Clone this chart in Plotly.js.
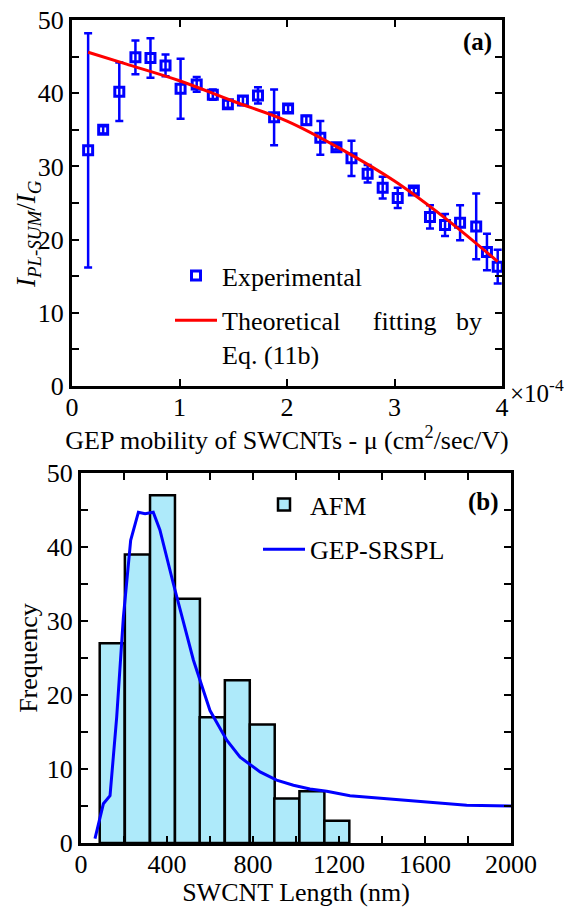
<!DOCTYPE html>
<html><head><meta charset="utf-8">
<script src="https://cdn.plot.ly/plotly-3.0.1.min.js"></script>
<style>html,body{margin:0;padding:0;background:#fff}</style>
</head><body><div id="chart" style="width:565px;height:907px"></div>
<script>
// ---- Panel (a): GEP mobility (x 1e-4 cm2/sec/V) vs I_PL-SUM/I_G ----
const mobility = [0.15,0.29,0.44,0.59,0.73,0.87,1.01,1.16,1.31,1.45,1.59,1.73,1.88,2.01,2.18,2.31,2.46,2.60,2.75,2.89,3.03,3.18,3.33,3.47,3.61,3.76,3.86,3.96];
const ratioExp = [32.2,35.0,40.2,44.9,44.8,43.8,40.6,41.2,39.8,38.5,39.0,39.7,36.7,37.9,36.3,33.9,32.6,31.1,29.0,27.1,25.7,26.7,23.1,22.0,22.3,21.8,18.3,16.3];
const ratioErr = [16.0,0.5,4.0,2.3,2.7,1.5,4.1,1.0,0.7,0.5,0.6,1.1,3.8,0.5,0.6,2.3,0.3,2.4,1.2,1.5,1.4,0.4,1.6,1.5,2.4,4.5,2.5,2.3];
const fitMobility = [0.15,0.5,1.0,1.5,2.0,2.5,3.0,3.5,3.96];
const fitRatio = [45.6,44.0,41.7,38.9,36.2,32.4,28.0,22.6,17.0];
const xTicksA = [0,1,2,3,4];

// ---- Panel (b): SWCNT length histogram ----
const lengthBins = [145,262,379,495,610,727,843,957,1074,1190];
const afmFreq = [27,39,47,33,17,22,16,6,7,3];
const gepLength = [65,104,135,166,197,231,267,298,336,367,429,523,600,678,740,833,910,988,1065,1143,1251,1329,1484,1639,1794,2000];
const gepFreq = [0.6,5.3,6.4,17.0,30.5,40.9,44.7,44.5,44.7,42.3,35.1,24.7,17.9,13.9,11.6,9.6,8.5,7.8,7.3,7.0,6.4,6.2,5.9,5.5,5.1,5.0];
const xTicksB = [0,400,800,1200,1600,2000];
const yTicks = [0,10,20,30,40,50];

const FONT = 'Liberation Serif, Times New Roman, serif';
const W = 565, H = 907;
const px = v => v / W, py = v => 1 - v / H;

const traces = [
  {
    x: mobility, y: ratioExp, type: 'scatter', mode: 'markers', name: 'Experimental',
    xaxis: 'x', yaxis: 'y', legend: 'legend', legendgroup: 'exp',
    marker: {symbol: 'square-open', size: 9, color: '#0000ff', line: {width: 3, color: '#0000ff'}},
    error_y: {type: 'data', array: ratioErr, visible: true, color: '#0000ff', thickness: 2.5, width: 4}
  },
  {
    x: fitMobility, y: fitRatio, type: 'scatter', mode: 'lines',
    name: 'Theoretical\u00a0\u00a0\u00a0\u00a0\u00a0fitting\u00a0\u00a0\u00a0by<br>Eq. (11b)',
    xaxis: 'x', yaxis: 'y', legend: 'legend', legendgroup: 'fit',
    line: {color: '#ff0000', width: 3, shape: 'spline'}
  },
  {
    x: lengthBins, y: afmFreq, type: 'bar', name: 'AFM', width: 116,
    xaxis: 'x2', yaxis: 'y2', legend: 'legend2', legendgroup: 'afm',
    marker: {color: '#aeeafa', line: {color: '#000000', width: 2.5}}
  },
  {
    x: gepLength, y: gepFreq, type: 'scatter', mode: 'lines', name: 'GEP-SRSPL',
    xaxis: 'x2', yaxis: 'y2', legend: 'legend2', legendgroup: 'gep',
    line: {color: '#0000ff', width: 3}
  }
];

const axisCommon = {
  showline: true, linecolor: '#000', linewidth: 3, mirror: 'ticks',
  ticks: 'inside', ticklen: 7, tickwidth: 2, tickcolor: '#000',
  showgrid: false, zeroline: false,
  tickfont: {family: FONT, size: 26, color: '#000'}
};

const layout = {
  width: W, height: H,
  margin: {l: 0, r: 0, t: 0, b: 0},
  paper_bgcolor: '#fff', plot_bgcolor: '#fff',
  font: {family: FONT, size: 26, color: '#000'},
  xaxis: Object.assign({}, axisCommon, {
    domain: [px(72), px(502)], anchor: 'y', range: [0, 4],
    tickmode: 'array', tickvals: xTicksA, ticktext: xTicksA.map(String),
    ticklabelstandoff: -4,
    title: {text: 'GEP mobility of SWCNTs - \u03bc (cm<sup>2</sup>/sec/V)', font: {family: FONT, size: 26}, standoff: 0}
  }),
  yaxis: Object.assign({}, axisCommon, {
    domain: [py(386), py(20)], anchor: 'x', range: [0, 50],
    tickmode: 'array', tickvals: yTicks, ticktext: yTicks.map(String),
    minor: {dtick: 5, ticks: 'inside', ticklen: 7, tickwidth: 2, tickcolor: '#000', showgrid: false}
  }),
  xaxis2: Object.assign({}, axisCommon, {
    domain: [px(81), px(511)], anchor: 'y2', range: [0, 2000],
    tickmode: 'array', tickvals: xTicksB, ticktext: xTicksB.map(String),
    ticklabelstandoff: -4,
    minor: {dtick: 200, ticks: 'inside', ticklen: 7, tickwidth: 2, tickcolor: '#000', showgrid: false},
    title: {text: 'SWCNT Length (nm)', font: {family: FONT, size: 26}, standoff: 6}
  }),
  yaxis2: Object.assign({}, axisCommon, {
    domain: [py(843), py(473)], anchor: 'x2', range: [0, 50],
    tickmode: 'array', tickvals: yTicks, ticktext: yTicks.map(String),
    minor: {dtick: 5, ticks: 'inside', ticklen: 7, tickwidth: 2, tickcolor: '#000', showgrid: false},
    title: {text: 'Frequency', font: {family: FONT, size: 26}, standoff: 2}
  }),
  legend: {
    x: px(170), y: py(252), xanchor: 'left', yanchor: 'top',
    bgcolor: 'rgba(0,0,0,0)', borderwidth: 0, valign: 'top', itemwidth: 42,
    font: {family: FONT, size: 26, color: '#000'}, tracegroupgap: 8, traceorder: 'grouped'
  },
  legend2: {
    x: px(258), y: py(481), xanchor: 'left', yanchor: 'top',
    bgcolor: 'rgba(0,0,0,0)', borderwidth: 0, itemwidth: 42,
    font: {family: FONT, size: 26, color: '#000'}, tracegroupgap: 8, traceorder: 'grouped'
  },
  annotations: [
    {text: '<i>I</i><sub><i>PL-SUM</i></sub>/<i>I</i><sub><i>G</i></sub>', textangle: -90,
     x: px(28), y: py(234), xref: 'paper', yref: 'paper', xanchor: 'center', yanchor: 'middle',
     showarrow: false, font: {family: FONT, size: 27, color: '#000'}},
    {text: '<b>(a)</b>', x: px(477), y: py(42), xref: 'paper', yref: 'paper', xanchor: 'center', yanchor: 'middle',
     showarrow: false, font: {family: FONT, size: 25, color: '#000'}},
    {text: '<b>(b)</b>', x: px(483), y: py(502), xref: 'paper', yref: 'paper', xanchor: 'center', yanchor: 'middle',
     showarrow: false, font: {family: FONT, size: 25, color: '#000'}},
    {text: '\u00d710<sup>-4</sup>', x: px(508), y: py(391), xref: 'paper', yref: 'paper', xanchor: 'left', yanchor: 'middle',
     showarrow: false, font: {family: FONT, size: 25, color: '#000'}}
  ],
  showlegend: true
};

Plotly.newPlot('chart', traces, layout, {displayModeBar: false, staticPlot: true});
</script></body></html>
